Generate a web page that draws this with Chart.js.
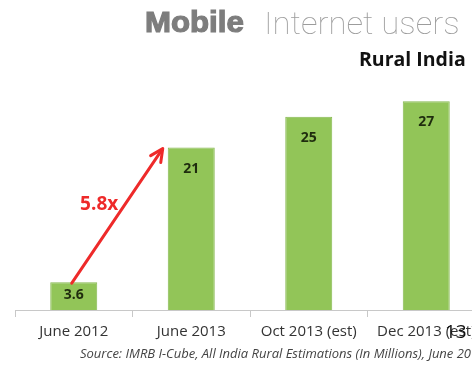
<!DOCTYPE html>
<html>
<head>
<meta charset="utf-8">
<script src="https://cdn.jsdelivr.net/npm/chart.js@4"></script>
<style>
  html, body { margin: 0; padding: 0; background: #fff; overflow: hidden; width: 472px; height: 368px; }
  #wrap { position: relative; width: 472px; height: 368px; overflow: hidden; }
  #myChart { position: absolute; left: 0; top: 0; }
  .t { position: absolute; white-space: nowrap; }
  #mobile { left: 145px; top: 5px; font-family: 'Liberation Sans', sans-serif; font-weight: bold; font-size: 30px; color: #7d7d7d; -webkit-text-stroke: 1.2px #7d7d7d; transform: scaleX(1.04); transform-origin: left top; }
  #inet { left: 264px; top: 5px; font-family: Roboto, sans-serif; font-weight: 100; font-size: 31px; color: #9c9c9c; transform: scaleX(1.06); transform-origin: left top; }
  #rural { left: 359px; top: 45px; font-family: 'Open Sans', sans-serif; font-weight: bold; font-size: 19.5px; color: #111; }
  #source { left: 80px; top: 344px; font-family: 'Open Sans', sans-serif; font-style: italic; font-size: 13px; color: #444; }
  #slide { left: 445px; top: 318px; font-family: 'Open Sans', sans-serif; font-size: 19px; color: #111; }
</style>
</head>
<body>
<div id="wrap">
  <canvas id="myChart" width="500" height="368"></canvas>
  <div class="t" id="mobile">Mobile</div>
  <div class="t" id="inet">Internet users</div>
  <div class="t" id="rural">Rural India</div>
  <div class="t" id="source">Source: IMRB I-Cube, All India Rural Estimations (In Millions), June 2013</div>
  <div class="t" id="slide">13</div>
</div>
<script>
var periodos = ['June 2012', 'June 2013', 'Oct 2013 (est)', 'Dec 2013 (est)'];
var usuarios = [3.6, 21, 25, 27];
var crescimento = '5.8x';

// seta vermelha entre a primeira e a segunda barra, com o rótulo de crescimento
var setaPlugin = {
    id: 'seta',
    afterDatasetsDraw: function (chart) {
        var ctx = chart.ctx;
        var bars = chart.getDatasetMeta(0).data;
        var b0 = bars[0], b1 = bars[1];
        var x1 = b0.x - 2, y1 = b0.y + 1;
        var x2 = b1.x - b1.width / 2 - 5, y2 = b1.y + 1;
        var ang = Math.atan2(y2 - y1, x2 - x1);
        ctx.save();
        ctx.strokeStyle = '#ee2a2a';
        ctx.fillStyle = '#ee2a2a';
        ctx.lineWidth = 3;
        ctx.lineCap = 'round';
        ctx.lineJoin = 'round';
        ctx.beginPath();
        ctx.moveTo(x1, y1);
        ctx.lineTo(x2 - 4 * Math.cos(ang), y2 - 4 * Math.sin(ang));
        ctx.stroke();
        var h = 14;
        ctx.beginPath();
        ctx.moveTo(x2 - h * Math.cos(ang - 0.45), y2 - h * Math.sin(ang - 0.45));
        ctx.lineTo(x2, y2);
        ctx.lineTo(x2 - h * Math.cos(ang + 0.45), y2 - h * Math.sin(ang + 0.45));
        ctx.stroke();
        ctx.font = 'bold 19px "Open Sans", sans-serif';
        ctx.textAlign = 'right';
        ctx.textBaseline = 'middle';
        ctx.fillText(crescimento, (x1 + x2) / 2 + 1, (y1 + y2) / 2 - 11);
        ctx.restore();
    }
};

// valores dentro das barras
var rotulosPlugin = {
    id: 'rotulos',
    afterDatasetsDraw: function (chart) {
        var ctx = chart.ctx;
        var meta = chart.getDatasetMeta(0);
        ctx.save();
        ctx.font = 'bold 14px "Open Sans", sans-serif';
        ctx.fillStyle = '#1f2c0e';
        ctx.textAlign = 'center';
        ctx.textBaseline = 'middle';
        meta.data.forEach(function (bar, i) {
            var y = Math.min(bar.y + 21, (bar.y + bar.base) / 2 - 1);
            ctx.fillText(String(usuarios[i]), bar.x, y);
        });
        ctx.restore();
    }
};

document.addEventListener('DOMContentLoaded', function () {
    var ctx = document.getElementById('myChart').getContext('2d');
    var myChart = new Chart(ctx, {
        type: 'bar',
        data: {
            labels: periodos,
            datasets: [{
                data: usuarios,
                backgroundColor: 'rgb(146, 197, 88)',
                borderColor: 'rgb(134, 184, 80)',
                borderWidth: 1,
                barPercentage: 0.4,
                categoryPercentage: 1
            }]
        },
        options: {
            responsive: false,
            animation: false,
            layout: { padding: { left: 15, right: 15, top: 78, bottom: 21 } },
            plugins: {
                legend: { display: false },
                tooltip: { enabled: false }
            },
            scales: {
                y: { display: false, min: 0, max: 30 },
                x: {
                    grid: {
                        offset: true,
                        drawOnChartArea: false,
                        drawTicks: true,
                        tickLength: 7,
                        color: '#c8c8c8'
                    },
                    border: { display: true, color: '#c8c8c8' },
                    ticks: {
                        color: '#333',
                        padding: 6,
                        font: { family: "'Open Sans', sans-serif", size: 15 }
                    }
                }
            }
        },
        plugins: [rotulosPlugin, setaPlugin]
    });
});
</script>
</body>
</html>
